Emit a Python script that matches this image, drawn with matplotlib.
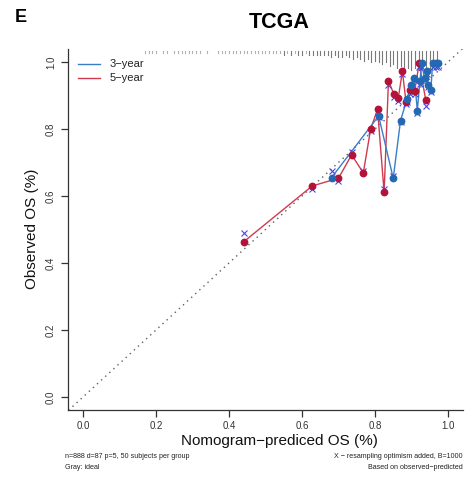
import matplotlib
matplotlib.use("Agg")
import matplotlib.pyplot as plt
import numpy as np

plt.rcParams['font.family'] = ['Liberation Sans', 'DejaVu Sans']

# ---- data ----
pred5 = [0.440, 0.628, 0.700, 0.736, 0.768, 0.788, 0.807, 0.825, 0.837, 0.851,
         0.864, 0.875, 0.885, 0.896, 0.909, 0.921, 0.939]
obs5 = [0.463, 0.630, 0.653, 0.723, 0.669, 0.799, 0.859, 0.611, 0.944, 0.906,
        0.893, 0.972, 0.882, 0.916, 0.914, 0.996, 0.887]
corr5 = [0.490, 0.620, 0.645, 0.730, 0.675, 0.795, 0.850, 0.620, 0.930, 0.895,
         0.885, 0.963, 0.874, 0.905, 0.905, 0.985, 0.869]

pred3 = [0.681, 0.810, 0.850, 0.870, 0.888, 0.898, 0.908, 0.916, 0.923, 0.928,
         0.936, 0.942, 0.946, 0.953, 0.958, 0.966, 0.974]
obs3 = [0.655, 0.839, 0.653, 0.825, 0.890, 0.931, 0.953, 0.855, 0.942, 0.996,
        0.951, 0.972, 0.930, 0.916, 0.996, 0.996, 0.996]
corr3 = [0.675, 0.835, 0.660, 0.820, 0.880, 0.920, 0.945, 0.847, 0.935, 0.985,
         0.945, 0.965, 0.925, 0.910, 0.985, 0.985, 0.985]

rug_x = [0.17, 0.18, 0.19, 0.20, 0.21, 0.22, 0.23, 0.24, 0.25, 0.26, 0.27, 0.28,
         0.29, 0.30, 0.31, 0.32, 0.33, 0.34, 0.35, 0.36, 0.37, 0.38, 0.39, 0.40,
         0.41, 0.42, 0.43, 0.44, 0.45, 0.46, 0.47, 0.48, 0.49, 0.50, 0.51, 0.52,
         0.53, 0.54, 0.55, 0.56, 0.57, 0.58, 0.59, 0.60, 0.61, 0.62, 0.63, 0.64,
         0.65, 0.66, 0.67, 0.68, 0.69, 0.70, 0.71, 0.72, 0.73, 0.74, 0.75, 0.76,
         0.77, 0.78, 0.79, 0.80, 0.81, 0.82, 0.83, 0.84, 0.85, 0.86, 0.87, 0.88,
         0.89, 0.90, 0.91, 0.92, 0.93, 0.94, 0.95, 0.96, 0.97]
rug_n = [1, 1, 1, 1, 0, 1, 1, 0, 1, 1, 1, 1,
         1, 1, 1, 1, 0, 1, 0, 0, 1, 1, 1, 1,
         1, 1, 1, 1, 1, 1, 1, 1, 1, 1, 1, 1,
         1, 1, 2, 1, 2, 1, 2, 2, 1, 2, 2, 2,
         2, 2, 2, 3, 2, 3, 3, 2, 3, 4, 3, 4,
         5, 4, 6, 5, 6, 7, 6, 8, 7, 9, 8, 10,
         9, 10, 9, 10, 10, 9, 10, 8, 6]

xticks = [0.0, 0.2, 0.4, 0.6, 0.8, 1.0]
yticks = [0.0, 0.2, 0.4, 0.6, 0.8, 1.0]

blue = '#3B7DC6'
blue_dot = '#2468B4'
red = '#D03A50'
red_dot = '#B5123A'
xcol = '#4646E6'

fig = plt.figure(figsize=(4.70, 4.79), dpi=100)
ax = fig.add_axes([0.1455, 0.1432, 0.8387, 0.7553])
ax.set_xlim(-0.04, 1.04)
ax.set_ylim(-0.04, 1.04)

# ideal line
ax.plot([-0.04, 1.04], [-0.04, 1.04], linestyle=(0, (1, 3)), color='#606060',
        linewidth=1.0, zorder=1)

# rug (risk distribution) hanging from the top
top = 1.032
for xv, n in zip(rug_x, rug_n):
    if n > 0:
        c = '#b0b0b0' if n == 1 else '#7a7a7a'
        ax.plot([xv, xv], [top, top - n * 0.0055], color=c,
                linewidth=0.8, zorder=1)

# curves
ax.plot(pred5, obs5, color=red, linewidth=1.0, zorder=2)
ax.plot(pred3, obs3, color=blue, linewidth=1.0, zorder=2)
ax.plot(pred5, corr5, linestyle='none', marker='x', color=xcol,
        markersize=4, markeredgewidth=0.8, zorder=3)
ax.plot(pred3, corr3, linestyle='none', marker='x', color=xcol,
        markersize=4, markeredgewidth=0.8, zorder=3)
ax.plot(pred5, obs5, linestyle='none', marker='o', color=red_dot,
        markersize=4.6, zorder=4)
ax.plot(pred3, obs3, linestyle='none', marker='o', color=blue_dot,
        markersize=4.6, zorder=4)

# axes styling (R bty="l")
for s in ['top', 'right']:
    ax.spines[s].set_visible(False)
for s in ['left', 'bottom']:
    ax.spines[s].set_color('#333333')
    ax.spines[s].set_linewidth(0.9)
ax.set_xticks(xticks)
ax.set_yticks(yticks)
ax.set_xticklabels([f'{v:.1f}' for v in xticks], fontsize=7, color='#333333')
ax.set_yticklabels([f'{v:.1f}' for v in yticks], fontsize=7, color='#333333',
                   rotation=90, va='center')
ax.tick_params(axis='x', length=5, width=0.9, color='#333333', pad=2.5)
ax.tick_params(axis='y', length=5, width=0.9, color='#333333', pad=4)

# legend lines
fig.lines.append(plt.Line2D([78/470, 100/470], [1-64.3/479, 1-64.3/479],
                            color=blue, linewidth=1.0, transform=fig.transFigure))
fig.lines.append(plt.Line2D([78/470, 100/470], [1-77.7/479, 1-77.7/479],
                            color=red, linewidth=1.0, transform=fig.transFigure))
fig.text(110/470, 1-64.3/479, '3\u2212year', fontsize=8, va='center', ha='left',
         color='#222222')
fig.text(110/470, 1-77.7/479, '5\u2212year', fontsize=8, va='center', ha='left',
         color='#222222')

# titles & labels
fig.text(279/470, 1-22/479, 'TCGA', fontsize=15.5, fontweight='bold',
         ha='center', va='center')
fig.text(15/470, 1-18/479, 'E', fontsize=13, fontweight='bold',
         ha='left', va='center')
fig.text(279/470, 1-441/479, 'Nomogram\u2212prediced OS (%)', fontsize=11,
         ha='center', va='center', color='#111111')
fig.text(32/470, 1-229/479, 'Observed OS (%)', fontsize=11, rotation=90,
         ha='center', va='center', color='#111111')

# footnotes
fig.text(65/470, 1-456/479, 'n=888 d=87 p=5, 50 subjects per group', fontsize=5.1,
         ha='left', va='center', color='#222222')
fig.text(65/470, 1-467.5/479, 'Gray: ideal', fontsize=5.1,
         ha='left', va='center', color='#222222')
fig.text(463/470, 1-456/479, 'X \u2212 resampling optimism added, B=1000', fontsize=5.1,
         ha='right', va='center', color='#222222')
fig.text(463/470, 1-467.5/479, 'Based on observed\u2212predicted', fontsize=5.1,
         ha='right', va='center', color='#222222')

fig.savefig('out.png', dpi=100)
